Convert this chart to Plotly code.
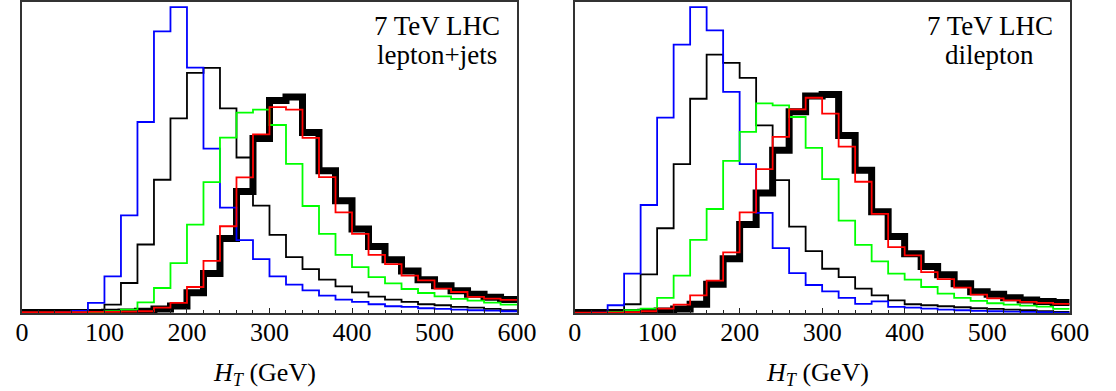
import plotly.graph_objects as go

# H_T bin edges (GeV), 20 GeV bins
bin_edges = [0, 20, 40, 60, 80, 100, 120, 140, 160, 180, 200, 220, 240, 260, 280, 300,
             320, 340, 360, 380, 400, 420, 440, 460, 480, 500, 520, 540, 560, 580, 600]

# ---- lepton+jets (left panel), arbitrary units ----
lj_blue = [0, 0, 1, 6, 30, 110, 294, 575, 848, 921, 739, 495, 317, 219, 162,
           110, 85, 68, 52, 40, 33, 26, 20, 18, 14, 12, 10, 8, 7, 5]
lj_black_thin = [1, 1, 2, 3, 4, 25, 90, 206, 401, 586, 723, 738, 616, 468, 323,
                 235, 168, 132, 100, 80, 62, 49, 40, 33, 26, 23, 18, 16, 12, 8]
lj_green = [0, 0, 0, 1, 2, 5, 10, 32, 75, 150, 266, 394, 528, 603, 612,
            566, 449, 322, 238, 175, 138, 108, 89, 72, 60, 50, 42, 37, 31, 25]
lj_red = [2, 2, 2, 2, 3, 3, 4, 5, 16, 30, 78, 157, 261, 408, 538,
          620, 612, 527, 409, 303, 238, 175, 147, 112, 98, 73, 63, 48, 43, 39]
lj_black_thick = [1, 1, 1, 1, 1, 2, 3, 5, 12, 21, 61, 119, 224, 366, 525,
                  640, 650, 543, 428, 338, 253, 200, 160, 126, 100, 82, 67, 56, 47, 40]

# ---- dilepton (right panel), arbitrary units ----
dl_blue = [0, 1, 23, 118, 325, 588, 808, 921, 851, 666, 448, 301, 195, 120, 84,
           65, 45, 27, 35, 18, 16, 13, 10, 8, 6, 5, 4, 3, 2, 1]
dl_black_thin = [0, 1, 4, 26, 116, 255, 448, 645, 778, 753, 708, 565, 400, 260, 186,
                 133, 108, 73, 53, 38, 26, 23, 20, 17, 14, 12, 10, 8, 5, 3]
dl_green = [0, 0, 2, 8, 13, 45, 112, 220, 313, 458, 545, 631, 625, 590, 497,
            403, 278, 205, 155, 118, 100, 78, 58, 45, 36, 29, 25, 22, 19, 12]
dl_red = [1, 1, 1, 2, 5, 13, 25, 53, 97, 182, 303, 433, 530, 613, 648,
          600, 501, 395, 298, 198, 173, 123, 102, 76, 55, 44, 38, 33, 30, 27]
dl_black_thick = [1, 1, 1, 1, 2, 6, 12, 26, 86, 163, 266, 361, 490, 606, 653,
                  658, 534, 430, 305, 230, 178, 140, 115, 88, 64, 56, 46, 39, 34, 31]

x_ticks = [0, 100, 200, 300, 400, 500, 600]
panel_labels = [["7 TeV LHC", "lepton+jets"], ["7 TeV LHC", "dilepton"]]
x_title = "<i>H</i><sub><i>T</i></sub> (GeV)"

SERIF = "Liberation Serif"

fig = go.Figure()


def add_hist(vals, color, width, xa, ya):
    fig.add_trace(go.Scatter(
        x=bin_edges, y=vals + [vals[-1]], mode="lines",
        line=dict(color=color, width=width, shape="hv"),
        xaxis=xa, yaxis=ya, showlegend=False, hoverinfo="skip"))


panels = [
    ("x", "y", [lj_black_thick, lj_black_thin, lj_blue, lj_green, lj_red]),
    ("x2", "y2", [dl_black_thick, dl_black_thin, dl_blue, dl_green, dl_red]),
]
styles = [("#000000", 7), ("#000000", 1.8), ("#0000ff", 1.8), ("#00ff00", 1.8), ("#ff0000", 1.8)]
for xa, ya, series in panels:
    for vals, (c, w) in zip(series, styles):
        add_hist(vals, c, w, xa, ya)

W, H = 1116, 391
left_px = [(15.3, 522.7), (581.7, 1089.0)]
bottom_px, top_px = 312.7, 0.8

xaxis_common = dict(
    range=[0, 600], tickvals=x_ticks, ticktext=[str(t) for t in x_ticks],
    ticks="inside", ticklen=5, tickwidth=1, tickcolor="#222",
    minor=dict(dtick=20, tick0=0, ticks="inside", ticklen=3, tickwidth=1, tickcolor="#222"),
    showline=True, linecolor="#333", linewidth=1.5, mirror=True,
    showgrid=False, zeroline=False,
    tickfont=dict(family=SERIF, size=26, color="black"),
    ticklabelstandoff=-5,
)
yaxis_common = dict(
    range=[0, 937], showticklabels=False, ticks="", showgrid=False, zeroline=False,
    showline=True, linecolor="#333", linewidth=1.5, mirror=True,
)

ydom = [(H - bottom_px) / H, (H - top_px) / H]
fig.update_layout(
    width=W, height=H, margin=dict(l=0, r=0, t=0, b=0),
    paper_bgcolor="white", plot_bgcolor="white",
    xaxis=dict(domain=[left_px[0][0] / W, left_px[0][1] / W], anchor="y", **xaxis_common),
    yaxis=dict(domain=ydom, anchor="x", **yaxis_common),
    xaxis2=dict(domain=[left_px[1][0] / W, left_px[1][1] / W], anchor="y2", **xaxis_common),
    yaxis2=dict(domain=ydom, anchor="x2", **yaxis_common),
)

annotations = []
for i, (l, r) in enumerate(left_px):
    cx = r - 82
    annotations.append(dict(x=cx / W, y=1 - 25.4 / H, xref="paper", yref="paper",
                            text=panel_labels[i][0], showarrow=False, xanchor="center",
                            yanchor="middle", font=dict(family=SERIF, size=27, color="black")))
    annotations.append(dict(x=cx / W, y=1 - 54.4 / H, xref="paper", yref="paper",
                            text=panel_labels[i][1], showarrow=False, xanchor="center",
                            yanchor="middle", font=dict(family=SERIF, size=27, color="black")))
    tx = (l + r) / 2 - 5
    annotations.append(dict(x=tx / W, y=(H - 373.5) / H, xref="paper", yref="paper",
                            text=x_title, showarrow=False, xanchor="center", yanchor="middle",
                            font=dict(family=SERIF, size=26, color="black")))
fig.update_layout(annotations=annotations)

fig.write_html("out.html")
